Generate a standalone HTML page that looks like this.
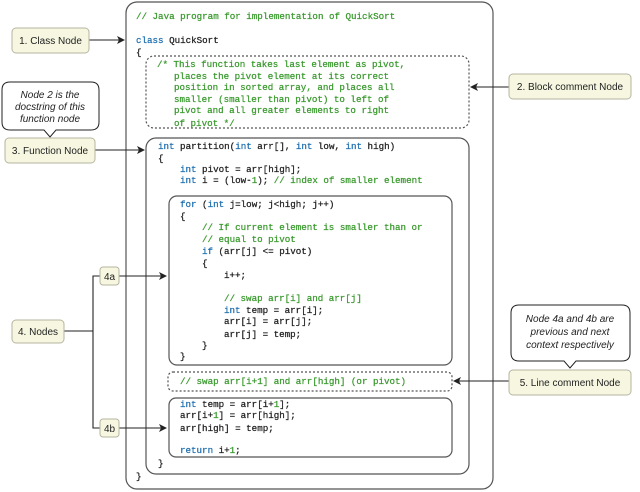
<!DOCTYPE html>
<html><head><meta charset="utf-8"><style>
html,body{margin:0;padding:0;background:#fff;}
svg{display:block}
.c{font-family:"Liberation Mono",monospace;font-size:9.2px;fill:#222;stroke:#222;stroke-width:0.25;white-space:pre}
.k{fill:#1e6fb0;stroke:#1e6fb0}
.g{fill:#3a9a2e;stroke:#3a9a2e}
.l{font-family:"Liberation Sans",sans-serif;font-size:10px;fill:#222}
.i{font-family:"Liberation Sans",sans-serif;font-size:10px;font-style:italic;fill:#222}
.box{fill:#f7f7e1;stroke:#b5b5a0;stroke-width:1}
</style></head><body>
<svg width="640" height="492" viewBox="0 0 640 492" xmlns="http://www.w3.org/2000/svg">
<defs><marker id="a" markerWidth="8" markerHeight="8" refX="7" refY="4" orient="auto" markerUnits="userSpaceOnUse"><path d="M0,0 L8,4 L0,8 L2,4z" fill="#222"/></marker></defs>
<g fill="none" stroke="#555" stroke-width="1.2">
<rect x="126" y="2" width="367" height="487" rx="11"/>
<rect x="146" y="56" width="323" height="72" rx="8" stroke-dasharray="2,2"/>
<rect x="146" y="138" width="323" height="336" rx="10"/>
<rect x="169" y="196" width="283" height="169" rx="8"/>
<rect x="168" y="372" width="284" height="19" rx="5" stroke-dasharray="2,2"/>
<rect x="169" y="398" width="283" height="59" rx="7"/>
</g>
<g xml:space="preserve">
<text class="c g" x="136" y="19">// Java program for implementation of QuickSort</text>
<text class="c" x="136" y="43"><tspan class="k">class</tspan> QuickSort</text>
<text class="c" x="136" y="55">{</text>
<text class="c g" x="157" y="67">/* This function takes last element as pivot,</text>
<text class="c g" x="174" y="79">places the pivot element at its correct</text>
<text class="c g" x="174" y="90">position in sorted array, and places all</text>
<text class="c g" x="174" y="102">smaller (smaller than pivot) to left of</text>
<text class="c g" x="174" y="113">pivot and all greater elements to right</text>
<text class="c g" x="174" y="126">of pivot */</text>
<text class="c" x="158" y="149"><tspan class="k">int</tspan> partition(<tspan class="k">int</tspan> arr[], <tspan class="k">int</tspan> low, <tspan class="k">int</tspan> high)</text>
<text class="c" x="158" y="161">{</text>
<text class="c" x="180" y="172"><tspan class="k">int</tspan> pivot = arr[high];</text>
<text class="c" x="180" y="183"><tspan class="k">int</tspan> i = (low-<tspan class="g">1</tspan>); <tspan class="g">// index of smaller element</tspan></text>
<text class="c" x="180" y="207"><tspan class="k">for</tspan> (<tspan class="k">int</tspan> j=low; j&lt;high; j++)</text>
<text class="c" x="180" y="219">{</text>
<text class="c g" x="202" y="230">// If current element is smaller than or</text>
<text class="c g" x="202" y="242">// equal to pivot</text>
<text class="c" x="202" y="254"><tspan class="k">if</tspan> (arr[j] &lt;= pivot)</text>
<text class="c" x="202" y="266">{</text>
<text class="c" x="224" y="278">i++;</text>
<text class="c g" x="224" y="301">// swap arr[i] and arr[j]</text>
<text class="c" x="224" y="313"><tspan class="k">int</tspan> temp = arr[i];</text>
<text class="c" x="224" y="324">arr[i] = arr[j];</text>
<text class="c" x="224" y="337">arr[j] = temp;</text>
<text class="c" x="202" y="348">}</text>
<text class="c" x="180" y="359">}</text>
<text class="c g" x="180" y="384">// swap arr[i+1] and arr[high] (or pivot)</text>
<text class="c" x="180" y="407"><tspan class="k">int</tspan> temp = arr[i+<tspan class="g">1</tspan>];</text>
<text class="c" x="180" y="418">arr[i+<tspan class="g">1</tspan>] = arr[high];</text>
<text class="c" x="180" y="431">arr[high] = temp;</text>
<text class="c" x="180" y="453"><tspan class="k">return</tspan> i+<tspan class="g">1</tspan>;</text>
<text class="c" x="158" y="466">}</text>
<text class="c" x="136" y="479">}</text>
</g>
<g stroke="#222" stroke-width="1.1" fill="none">
<line x1="89" y1="40" x2="124" y2="40" marker-end="url(#a)"/>
<line x1="95" y1="150" x2="144" y2="150" marker-end="url(#a)"/>
<line x1="119" y1="276" x2="166" y2="276" marker-end="url(#a)"/>
<line x1="119" y1="428" x2="166" y2="428" marker-end="url(#a)"/>
<polyline points="64,331 93,331"/>
<polyline points="100,276 93,276 93,428 100,428"/>
<line x1="509" y1="87" x2="471" y2="87" marker-end="url(#a)"/>
<line x1="509" y1="381" x2="454" y2="381" marker-end="url(#a)"/>
</g>
<path d="M10,82 H91 Q99,82 99,90 V122 Q99,130 91,130 H56 L50,137 L44,130 H10 Q2,130 2,122 V90 Q2,82 10,82Z" fill="#fff" stroke="#222" stroke-width="1"/>
<text class="i" x="50" y="98" text-anchor="middle">Node 2 is the</text>
<text class="i" x="50" y="110" text-anchor="middle">docstring of this</text>
<text class="i" x="50" y="122" text-anchor="middle">function node</text>
<path d="M519,305 H622 Q630,305 630,313 V353 Q630,361 622,361 H576 L570,368 L564,361 H519 Q511,361 511,353 V313 Q511,305 519,305Z" fill="#fff" stroke="#222" stroke-width="1"/>
<text class="i" x="570" y="322" text-anchor="middle">Node 4a and 4b are</text>
<text class="i" x="570" y="335" text-anchor="middle">previous and next</text>
<text class="i" x="570" y="348" text-anchor="middle">context respectively</text>
<rect class="box" x="12" y="28" width="77" height="25" rx="4"/>
<text class="l" x="50.5" y="44" text-anchor="middle">1. Class Node</text>
<rect class="box" x="5" y="138" width="90" height="25" rx="4"/>
<text class="l" x="50" y="154" text-anchor="middle">3. Function Node</text>
<rect class="box" x="12" y="320" width="52" height="23" rx="4"/>
<text class="l" x="38" y="335" text-anchor="middle">4. Nodes</text>
<rect class="box" x="100" y="267" width="19" height="18" rx="3"/>
<text class="l" x="109.5" y="280" text-anchor="middle">4a</text>
<rect class="box" x="100" y="419" width="19" height="18" rx="3"/>
<text class="l" x="109.5" y="432" text-anchor="middle">4b</text>
<rect class="box" x="509" y="74" width="122" height="25" rx="4"/>
<text class="l" x="570" y="90" text-anchor="middle">2. Block comment Node</text>
<rect class="box" x="509" y="370" width="122" height="25" rx="4"/>
<text class="l" x="570" y="386" text-anchor="middle">5. Line comment Node</text>
</svg>
</body></html>
